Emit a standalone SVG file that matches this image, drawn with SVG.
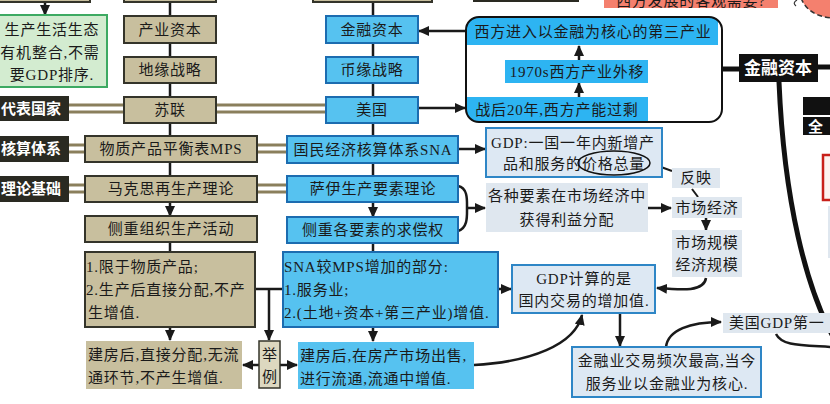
<svg xmlns="http://www.w3.org/2000/svg" width="830" height="404" viewBox="0 0 830 404">
<style>
.tan{fill:#c8bf9e;stroke:#34342a;stroke-width:2}
.tannb{fill:#c8bf9e}
.blue{fill:#56c2f0;stroke:#1c6cb0;stroke-width:2}
.bluenb{fill:#56c2f0}
.band{fill:#2db4f2}
.lt{fill:#dde8f3;stroke:#2e86c6;stroke-width:2}
.pale{fill:#dfe7ef}
.blk{fill:#2a2a22}
.t{font-family:"Liberation Serif","Noto Sans CJK SC",serif;font-size:15px;fill:#1a1a1a;letter-spacing:0.8px}
.c{text-anchor:middle}
.w{font-family:"Noto Sans CJK SC",sans-serif;font-weight:bold;fill:#fff;font-size:15px}
.ln{stroke:#1a1a1a;stroke-width:2.5;fill:none}
.ar{stroke:#1a1a1a;stroke-width:2.5;fill:none;marker-end:url(#ah)}
.dbl{stroke:#8a7f5c;stroke-width:3}
.thick{stroke:#111;stroke-width:5;fill:none}
</style>
<defs>
<marker id="ah" markerUnits="userSpaceOnUse" markerWidth="12" markerHeight="10" refX="10" refY="5" orient="auto">
<path d="M0,0 L11,5 L0,10 Z" fill="#1a1a1a"/>
</marker>
<clipPath id="rr"><rect x="466" y="17" width="256" height="105" rx="13"/></clipPath>
</defs>

<g id="connectors">
<line class="ln" x1="170" y1="0" x2="170" y2="202"/>
<line class="ar" x1="170" y1="202" x2="170" y2="216"/>
<line class="ln" x1="170" y1="242" x2="170" y2="252"/>
<line class="ln" x1="373" y1="0" x2="373" y2="202"/>
<line class="ar" x1="373" y1="202" x2="373" y2="217"/>
<line class="ln" x1="373" y1="243" x2="373" y2="252"/>
<line class="ar" x1="45" y1="2" x2="45" y2="15"/>
<g>
<line class="dbl" x1="69" y1="105" x2="124" y2="105"/><line class="dbl" x1="69" y1="112" x2="124" y2="112"/>
<line class="dbl" x1="216" y1="105" x2="326" y2="105"/><line class="dbl" x1="216" y1="112" x2="326" y2="112"/>
<line class="dbl" x1="69" y1="145" x2="85" y2="145"/><line class="dbl" x1="69" y1="152" x2="85" y2="152"/>
<line class="dbl" x1="257" y1="145" x2="287" y2="145"/><line class="dbl" x1="257" y1="152" x2="287" y2="152"/>
<line class="dbl" x1="69" y1="185" x2="85" y2="185"/><line class="dbl" x1="69" y1="192" x2="85" y2="192"/>
<line class="dbl" x1="257" y1="185" x2="287" y2="185"/><line class="dbl" x1="257" y1="192" x2="287" y2="192"/>
</g>
<line class="ar" x1="466" y1="31" x2="419" y2="31"/>
<line class="ar" x1="418" y1="108" x2="465" y2="108"/>
<line class="ar" x1="579" y1="97" x2="579" y2="83"/>
<line class="ar" x1="579" y1="60" x2="579" y2="46"/>
<line class="thick" x1="722" y1="69" x2="739" y2="69"/>
<line class="thick" x1="818" y1="67" x2="832" y2="67"/>
<path class="thick" d="M779,82 C784,200 806,290 836,342"/>
<line class="ar" x1="458" y1="149" x2="485" y2="149"/>
<path class="ln" d="M458,186 C468,188 467,200 467,208 C467,216 468,228 458,231"/>
<line class="ar" x1="467" y1="208" x2="485" y2="208"/>
<line class="ar" x1="648" y1="208" x2="671" y2="208"/>
<line class="ln" x1="650" y1="163" x2="672" y2="171" style="stroke-width:2"/>
<line class="ln" x1="692" y1="189" x2="698" y2="197" style="stroke-width:2"/>
<line class="ar" x1="706" y1="218" x2="706" y2="230"/>
<path class="ar" d="M706,278 C704,292 682,290 657,288"/>
<line class="ln" x1="255" y1="289" x2="283" y2="289"/>
<line class="ar" x1="269" y1="289" x2="269" y2="340"/>
<line class="ar" x1="170" y1="327" x2="170" y2="340"/>
<line class="ar" x1="373" y1="327" x2="373" y2="341"/>
<line class="ar" x1="259" y1="365" x2="243" y2="365"/>
<line class="ar" x1="280" y1="365" x2="297" y2="365"/>
<line class="ar" x1="498" y1="289" x2="511" y2="289"/>
<path class="ar" d="M474,365 C530,362 575,345 582,315"/>
<line class="ar" x1="620" y1="313" x2="620" y2="346"/>
<path class="ar" d="M666,347 C668,330 690,322 721,322"/>
<path class="ln" d="M776,334 C782,346 800,345 832,347"/>
</g>

<g id="top-partials">
<rect class="tan" x="-2" y="-20" width="92" height="22"/>
<rect class="tan" x="124" y="-20" width="92" height="22"/>
<rect class="tan" x="313" y="-20" width="119" height="22"/>
<rect class="blk" x="473" y="-20" width="106" height="22"/>
<rect x="604" y="-12" width="174" height="20" fill="#f4806e"/>
<text class="t c" x="691" y="6">西方发展的客观需要?</text>
<path d="M801,-2 Q808,16 832,18 L832,-2 Z" fill="#f4806e"/>
<path d="M801,-2 Q808,16 832,18" fill="none" stroke="#333" stroke-width="1.5" stroke-dasharray="5 3"/>
<path d="M797,0 Q792,3 796,6" fill="none" stroke="#333" stroke-width="1.2"/>
</g>

<g id="green">
<rect x="-2" y="15" width="109" height="72" fill="#d3ecd0" stroke="#3daa62" stroke-width="2"/>
<text class="t c" x="52" y="35">生产生活生态</text>
<text class="t c" x="50" y="58">有机整合,不需</text>
<text class="t c" x="52" y="80">要GDP排序.</text>
</g>

<g id="label-daibiao"><rect class="blk" x="-2" y="96" width="71" height="25"/><text class="w" x="1" y="114">代表国家</text></g>
<g id="label-hesuan"><rect class="blk" x="-2" y="136" width="71" height="26"/><text class="w" x="1" y="154">核算体系</text></g>
<g id="label-lilun"><rect class="blk" x="-2" y="176" width="71" height="26"/><text class="w" x="1" y="194">理论基础</text></g>

<g id="chanye"><rect class="tan" x="124" y="16" width="92" height="27"/><text class="t c" x="170" y="35">产业资本</text></g>
<g id="diyuan"><rect class="tan" x="124" y="57" width="92" height="26"/><text class="t c" x="170" y="75">地缘战略</text></g>
<g id="sulian"><rect class="tan" x="124" y="97" width="92" height="26"/><text class="t c" x="170" y="115">苏联</text></g>
<g id="mps"><rect class="tan" x="85" y="136" width="172" height="26"/><text class="t c" x="171" y="154">物质产品平衡表MPS</text></g>
<g id="makesi"><rect class="tan" x="85" y="176" width="172" height="26"/><text class="t c" x="171" y="194">马克思再生产理论</text></g>
<g id="zuzhi"><rect class="tan" x="85" y="216" width="172" height="26"/><text class="t c" x="171" y="234">侧重组织生产活动</text></g>
<g id="xianyu"><rect class="tan" x="85" y="252" width="170" height="75"/>
<text class="t" x="86" y="272">1.限于物质产品;</text>
<text class="t" x="86" y="295">2.生产后直接分配,不产</text>
<text class="t" x="88" y="318">生增值.</text></g>
<g id="jianfang1"><rect class="tannb" x="86" y="341" width="156" height="48"/>
<text class="t" x="88" y="360">建房后,直接分配,无流</text>
<text class="t" x="88" y="383">通环节,不产生增值.</text></g>
<g id="juli"><rect x="259" y="341" width="21" height="47" fill="#ddd8c0" stroke="#34342a" stroke-width="1.5"/>
<text class="t c" x="270" y="360">举</text><text class="t c" x="270" y="382">例</text></g>

<g id="jinrong"><rect class="blue" x="326" y="16" width="92" height="27"/><text class="t c" x="372" y="35">金融资本</text></g>
<g id="biyuan"><rect class="blue" x="326" y="57" width="92" height="26"/><text class="t c" x="372" y="75">币缘战略</text></g>
<g id="meiguo"><rect class="blue" x="326" y="97" width="92" height="26"/><text class="t c" x="372" y="115">美国</text></g>
<g id="sna"><rect class="blue" x="287" y="136" width="171" height="27"/><text class="t c" x="373" y="155">国民经济核算体系SNA</text></g>
<g id="sayi"><rect class="blue" x="287" y="176" width="171" height="26"/><text class="t c" x="373" y="194">萨伊生产要素理论</text></g>
<g id="qiuchang"><rect class="blue" x="287" y="217" width="171" height="26"/><text class="t c" x="373" y="235">侧重各要素的求偿权</text></g>
<g id="snamps"><rect class="blue" x="283" y="252" width="215" height="75"/>
<text class="t" x="284" y="272">SNA较MPS增加的部分:</text>
<text class="t" x="284" y="295">1.服务业;</text>
<text class="t" x="284" y="318">2.(土地+资本+第三产业)增值.</text></g>
<g id="jianfang2"><rect class="bluenb" x="298" y="342" width="176" height="47"/>
<text class="t" x="300" y="361">建房后,在房产市场出售,</text>
<text class="t" x="300" y="384">进行流通,流通中增值.</text></g>

<g id="west">
<g clip-path="url(#rr)">
<rect x="466" y="17" width="252" height="28" class="band"/>
<rect x="466" y="97" width="182" height="25" class="band"/>
</g>
<rect x="505" y="60" width="143" height="23" class="band"/>
<rect x="466" y="17" width="256" height="105" rx="13" fill="none" stroke="#111" stroke-width="2"/>
<text class="t c" x="593" y="37">西方进入以金融为核心的第三产业</text>
<text class="t c" x="577" y="77">1970s西方产业外移</text>
<text class="t c" x="557" y="115">战后20年,西方产能过剩</text>
</g>

<g id="gdp-def"><rect class="lt" x="486" y="128" width="176" height="49"/>
<text class="t c" x="573" y="148">GDP:一国一年内新增产</text>
<text class="t c" x="574" y="169">品和服务的价格总量</text>
<ellipse cx="614" cy="163" rx="36" ry="12" fill="none" stroke="#111" stroke-width="1.5"/></g>
<g id="yaosu"><rect class="pale" x="486" y="183" width="162" height="49"/>
<text class="t c" x="567" y="201">各种要素在市场经济中</text>
<text class="t c" x="567" y="225">获得利益分配</text></g>
<g id="fanying"><rect class="pale" x="672" y="168" width="48" height="20"/><text class="t c" x="696" y="183">反映</text></g>
<g id="shichang"><rect class="pale" x="672" y="197" width="70" height="21"/><text class="t c" x="707" y="213">市场经济</text></g>
<g id="guimo"><rect class="pale" x="672" y="230" width="70" height="47"/>
<text class="t c" x="707" y="248">市场规模</text><text class="t c" x="707" y="270">经济规模</text></g>
<g id="gdp-calc"><rect class="lt" x="512" y="265" width="143" height="48"/>
<text class="t c" x="584" y="284">GDP计算的是</text>
<text class="t c" x="584" y="306">国内交易的增加值.</text></g>
<g id="jinrongye"><rect class="lt" x="572" y="347" width="189" height="50"/>
<text class="t c" x="667" y="366">金融业交易频次最高,当今</text>
<text class="t c" x="667" y="389">服务业以金融业为核心.</text></g>
<g id="gdp-first"><rect class="pale" x="723" y="313" width="110" height="20"/><text class="t" x="729" y="328">美国GDP第一</text></g>

<g id="jinrong-black"><rect x="739" y="54" width="79" height="28" fill="#111"/><text class="w c" x="778" y="74" style="font-size:17px">金融资本</text></g>
<g id="right-edge">
<rect x="803" y="97" width="30" height="18" fill="#111"/>
<rect x="803" y="117" width="30" height="18" fill="#111"/>
<text class="w" x="808" y="132">全</text>
<rect x="823" y="155" width="12" height="45" fill="#fdf3f0" stroke="#c8201a" stroke-width="2.5"/>
<rect x="828" y="206" width="5" height="52" fill="#dfe7ef"/>
</g>
</svg>
